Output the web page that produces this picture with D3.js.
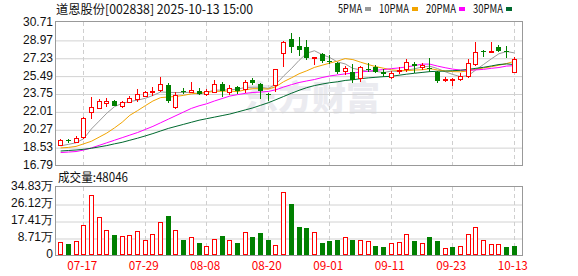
<!DOCTYPE html>
<html>
<head>
<meta charset="utf-8">
<script src="https://cdn.jsdelivr.net/npm/d3@7"></script>
<style>
  body { margin: 0; background: #fff; }
  svg { display: block; }
</style>
</head>
<body>
<div id="chart"></div>
<script>
// Trading days shown on the chart
const dates = [
  "07-14","07-15","07-16","07-17","07-18","07-21","07-22","07-23","07-24","07-25",
  "07-28","07-29","07-30","07-31","08-01","08-04","08-05","08-06","08-07","08-08",
  "08-11","08-12","08-13","08-14","08-15","08-18","08-19","08-20","08-21","08-22",
  "08-25","08-26","08-27","08-28","08-29","09-01","09-02","09-03","09-04","09-05",
  "09-08","09-09","09-10","09-11","09-12","09-15","09-16","09-17","09-18","09-19",
  "09-22","09-23","09-24","09-25","09-26","09-29","09-30","10-09","10-10","10-13"
];

const opens = [
  18.74,19.18,19.06,19.48,21.92,22.30,22.79,23.05,22.57,22.95,
  23.21,23.54,23.92,24.09,24.58,22.41,24.02,23.86,23.99,23.70,
  23.93,24.67,23.86,24.35,24.19,25.06,24.64,23.72,24.58,27.66,
  29.02,28.41,28.24,27.22,27.56,26.90,26.75,25.97,25.87,25.23,
  26.12,26.36,25.81,25.39,26.00,26.14,26.62,26.30,26.25,25.81,
  25.15,25.10,25.19,25.49,26.59,27.92,27.80,28.31,27.85,25.87
];
const highs = [
  19.32,19.35,19.61,21.43,23.44,23.18,23.28,23.10,23.02,23.50,
  24.16,24.02,24.41,25.39,24.74,23.93,24.26,24.90,24.25,24.15,
  25.06,24.84,24.58,24.48,25.06,25.23,24.80,23.83,26.15,28.85,
  29.61,29.28,28.96,27.33,27.66,27.50,26.85,26.43,26.59,26.43,
  26.69,26.52,26.10,25.97,26.30,27.11,26.85,26.75,27.24,25.97,
  25.39,25.23,25.78,27.08,28.73,27.98,28.73,28.47,28.37,27.34
];
const lows = [
  18.64,18.96,18.90,19.29,21.23,22.21,22.47,22.50,22.37,22.80,
  22.95,23.45,23.54,23.86,22.86,22.24,23.67,23.77,23.60,23.54,
  23.77,23.44,23.60,23.70,23.77,24.58,23.20,23.05,23.86,26.36,
  27.72,27.43,27.01,26.52,26.69,26.59,25.62,25.55,24.74,24.84,
  25.87,25.78,25.39,25.20,25.65,25.87,25.78,26.04,25.87,24.80,
  24.90,24.48,25.00,25.23,26.46,27.33,27.76,27.76,27.24,25.71
];
const closes = [
  19.22,19.14,19.39,21.33,22.40,23.02,23.02,22.57,22.95,23.28,
  23.67,23.93,23.99,24.64,23.05,23.60,23.97,24.09,23.70,23.99,
  24.64,23.99,24.25,23.99,24.84,24.74,23.99,23.65,26.10,28.80,
  28.31,27.98,27.17,27.28,26.95,26.85,25.87,26.20,25.06,26.30,
  26.08,25.87,25.62,25.78,26.07,26.78,26.46,26.52,26.18,24.97,
  25.20,25.15,25.45,26.69,27.76,27.87,27.84,27.92,27.80,27.08
];

// Moving averages
const ma5 = [
  18.65,18.80,18.95,19.35,20.30,21.06,21.83,22.47,22.79,22.97,
  23.10,23.28,23.56,23.90,23.86,23.84,23.85,23.87,23.68,23.87,
  24.08,24.08,24.11,24.17,24.34,24.36,24.36,24.24,24.66,25.46,
  26.17,26.97,27.67,27.91,27.54,27.25,26.82,26.63,26.19,26.06,
  25.90,25.90,25.79,25.93,25.89,26.03,26.15,26.33,26.41,26.18,
  25.87,25.60,25.39,25.49,26.05,26.58,27.12,27.62,27.84,27.70
];
const ma10 = [
  18.45,18.50,18.60,18.85,19.10,19.50,19.90,20.40,20.95,21.63,
  22.08,22.56,23.02,23.35,23.41,23.47,23.57,23.72,23.79,23.86,
  23.96,23.97,23.99,23.93,24.11,24.22,24.22,24.18,24.42,24.90,
  25.27,25.67,25.96,26.29,26.50,26.71,26.90,27.15,27.05,26.80,
  26.57,26.36,26.21,26.06,25.98,25.97,26.03,26.06,26.17,26.04,
  25.95,25.88,25.86,25.95,26.12,26.23,26.36,26.50,26.67,26.88
];
const ma20 = [
  18.00,18.05,18.10,18.25,18.45,18.70,18.95,19.20,19.45,19.70,
  19.95,20.25,20.55,20.90,21.25,21.60,21.95,22.30,22.55,22.75,
  23.02,23.26,23.50,23.64,23.76,23.85,23.89,23.95,24.11,24.38,
  24.61,24.82,24.97,25.11,25.30,25.46,25.56,25.66,25.73,25.85,
  25.92,26.01,26.08,26.17,26.24,26.34,26.46,26.61,26.61,26.42,
  26.26,26.12,26.03,26.01,26.05,26.10,26.20,26.28,26.42,26.46
];
const ma30 = [
  18.15,18.20,18.25,18.32,18.42,18.55,18.68,18.85,19.00,19.20,
  19.40,19.62,19.85,20.10,20.35,20.55,20.75,20.95,21.15,21.30,
  21.45,21.60,21.75,21.95,22.15,22.35,22.60,22.85,23.15,23.46,
  23.77,24.06,24.32,24.52,24.67,24.80,24.89,25.02,25.09,25.19,
  25.27,25.33,25.39,25.42,25.53,25.63,25.72,25.80,25.88,25.91,
  25.93,25.97,26.01,26.10,26.20,26.30,26.43,26.57,26.63,26.57
];

// Volume in 万 (10k), and whether each bar is drawn red (1) or green (0)
const volumes = [
  6.5,5.6,7.2,15.4,30.7,19.3,12.8,10.2,9.7,10.1,
  12.3,7.7,10.8,16.9,20.0,12.8,7.7,9.1,6.3,4.6,
  8.2,9.7,7.7,6.3,11.8,9.2,11.3,7.7,5.1,32.4,
  26.1,14.5,13.7,11.6,6.0,7.2,7.7,9.1,7.7,7.7,
  7.2,4.6,3.9,6.0,6.5,10.8,7.2,6.0,9.1,7.2,
  3.4,3.9,4.6,10.8,14.2,7.7,5.6,5.6,3.9,4.8046
];
const volUp = [
  1,0,1,1,1,1,1,0,1,1, 1,1,1,1,0,1,0,1,0,1,
  1,0,1,0,1,0,0,0,1,1, 0,0,0,1,0,0,0,1,0,1,
  1,0,0,1,1,1,0,1,0,0, 1,0,1,1,1,1,1,1,0,0
];

const priceTicks = [30.71, 28.97, 27.23, 25.49, 23.75, 22.01, 20.27, 18.53, 16.79];
const volTicks = [34.83, 26.12, 17.41, 8.71, 0];
const tickDates = ["07-17","07-29","08-08","08-20","09-01","09-11","09-23","10-13"];

const maSeries = [
  { name: "5PMA", values: ma5, color: "#9a9a9a" },
  { name: "10PMA", values: ma10, color: "#f2a400" },
  { name: "20PMA", values: ma20, color: "#ff00ff" },
  { name: "30PMA", values: ma30, color: "#00692f" }
];

// Layout
const width = 578, height = 276;
const left = 56, right = 522;
const kTop = 22, kBottom = 165, vTop = 187, vBottom = 255;
const RED = "#ff0000", GREEN = "#008000";
const cjk = "'Noto Sans CJK SC', 'Noto Sans', sans-serif";
const num = "'Liberation Sans', Arial, sans-serif";

const svg = d3.select("#chart")
  .append("svg")
  .attr("width", width)
  .attr("height", height);

svg.append("rect").attr("width", width).attr("height", height).attr("fill", "#fff");

// Scales
const x = d3.scaleBand().domain(dates).range([56.8, 518.2]).paddingInner(0.35).paddingOuter(0.175);
const col = d => Math.round(x(d) + x.bandwidth() / 2 - 0.5);
const y = d3.scaleLinear().domain([16.79, 30.71]).range([kBottom, kTop]);
const yv = d3.scaleLinear().domain([0, 34.83]).range([vBottom, vTop]);

// Watermark
svg.append("text")
  .attr("x", 244).attr("y", 110)
  .attr("font-family", cjk)
  .attr("font-size", 34)
  .attr("font-weight", 900)
  .attr("fill", "#ebebf0")
  .text("东方财富");

// Horizontal grid lines
svg.append("g")
  .attr("transform", `translate(${left},0)`)
  .call(d3.axisRight(y).tickValues(priceTicks.slice(1, -1)).tickSize(right - left).tickFormat(""))
  .call(g => g.select(".domain").remove())
  .call(g => g.selectAll("line").attr("stroke", "#d2d2d2").attr("transform", "translate(0,0.5)"));

svg.append("g")
  .attr("transform", `translate(${left},0)`)
  .call(d3.axisRight(yv).tickValues(volTicks.slice(1, -1)).tickSize(right - left).tickFormat(""))
  .call(g => g.select(".domain").remove())
  .call(g => g.selectAll("line").attr("stroke", "#d2d2d2").attr("transform", "translate(0,0.5)"));

// Vertical dashed lines at the date labels
[[kTop, kBottom], [vTop, vBottom]].forEach(([t, b]) => {
  svg.append("g")
    .selectAll("line")
    .data(tickDates)
    .join("line")
    .attr("x1", d => col(d) + 0.5)
    .attr("x2", d => col(d) + 0.5)
    .attr("y1", t)
    .attr("y2", b)
    .attr("stroke", "#cfcfcf")
    .attr("stroke-dasharray", "4,3");
});

// Panel borders
svg.append("rect")
  .attr("x", left - 0.5).attr("y", kTop - 0.5)
  .attr("width", right - left + 1).attr("height", kBottom - kTop + 1)
  .attr("fill", "none").attr("stroke", "#999");
svg.append("rect")
  .attr("x", left - 0.5).attr("y", vTop - 0.5)
  .attr("width", right - left + 1).attr("height", vBottom - vTop + 1)
  .attr("fill", "none").attr("stroke", "#999");

// Price axis labels
svg.append("g")
  .attr("transform", `translate(${left},0)`)
  .call(d3.axisLeft(y).tickValues(priceTicks).tickSize(0).tickPadding(3).tickFormat(d3.format(".2f")))
  .call(g => g.select(".domain").remove())
  .call(g => g.selectAll("text")
    .attr("font-family", num).attr("font-size", 12).attr("fill", "#111").attr("dy", "0.28em"));

// Volume axis labels
svg.append("g")
  .attr("transform", `translate(${left},0)`)
  .call(d3.axisLeft(yv).tickValues(volTicks).tickSize(0).tickPadding(3)
    .tickFormat(d => d === 0 ? "0" : d3.format(".2f")(d) + "万"))
  .call(g => g.select(".domain").remove())
  .call(g => g.selectAll("text")
    .attr("font-family", num).attr("font-size", 12).attr("fill", "#111").attr("dy", "0.22em"));

// Date axis
svg.append("g")
  .attr("transform", `translate(0,${vBottom})`)
  .call(d3.axisBottom(x).tickValues(tickDates).tickSize(0).tickPadding(6))
  .call(g => g.select(".domain").remove())
  .call(g => g.selectAll("text")
    .attr("font-family", cjk).attr("font-size", 12).attr("fill", RED)
    .attr("dx", -1.5).attr("textLength", 30).attr("lengthAdjust", "spacingAndGlyphs"));

// Moving average lines
const line = d3.line().x((d, i) => x(dates[i]) + x.bandwidth() / 2).y(d => y(d));
svg.append("g")
  .selectAll("path")
  .data(maSeries)
  .join("path")
  .attr("d", d => line(d.values))
  .attr("fill", "none")
  .attr("stroke", d => d.color)
  .attr("stroke-width", 1);

// Candles
const bars = dates.map((d, i) => ({ date: d, o: opens[i], h: highs[i], l: lows[i], c: closes[i] }));
const candle = svg.append("g")
  .selectAll("g")
  .data(bars)
  .join("g");

candle.append("line")
  .attr("x1", d => col(d.date) + 0.5)
  .attr("x2", d => col(d.date) + 0.5)
  .attr("y1", d => Math.round(y(d.h)))
  .attr("y2", d => Math.round(y(d.l)))
  .attr("stroke", d => d.c >= d.o ? RED : GREEN);

candle.append("rect")
  .attr("x", d => d.c >= d.o ? col(d.date) - 1.5 : col(d.date) - 2)
  .attr("y", d => d.c >= d.o ? Math.round(y(Math.max(d.o, d.c))) + 0.5 : Math.round(y(Math.max(d.o, d.c))))
  .attr("width", d => d.c >= d.o ? 4 : 5)
  .attr("height", d => Math.max(1, Math.round(y(Math.min(d.o, d.c))) - Math.round(y(Math.max(d.o, d.c)))))
  .attr("fill", d => d.c >= d.o ? "#fff" : GREEN)
  .attr("stroke", d => d.c >= d.o ? RED : "none");

// Volume bars
svg.append("g")
  .selectAll("rect")
  .data(dates.map((d, i) => ({ date: d, v: volumes[i], up: volUp[i] })))
  .join("rect")
  .attr("x", d => d.up ? col(d.date) - 1.5 : col(d.date) - 2)
  .attr("y", d => d.up ? Math.round(yv(d.v)) + 0.5 : Math.round(yv(d.v)))
  .attr("width", d => d.up ? 4 : 5)
  .attr("height", d => d.up ? vBottom - Math.round(yv(d.v)) - 1 : vBottom - Math.round(yv(d.v)))
  .attr("fill", d => d.up ? "#fff" : GREEN)
  .attr("stroke", d => d.up ? RED : "none");

// Title
svg.append("text")
  .attr("x", 56).attr("y", 14)
  .attr("font-family", cjk).attr("font-size", 12.5).attr("fill", "#111")
  .attr("textLength", 197).attr("lengthAdjust", "spacingAndGlyphs")
  .text("道恩股份[002838] 2025-10-13 15:00");

// Volume caption
svg.append("text")
  .attr("x", 58).attr("y", 182)
  .attr("font-family", cjk).attr("font-size", 12.5).attr("fill", "#111")
  .attr("textLength", 70).attr("lengthAdjust", "spacingAndGlyphs")
  .text("成交量:" + Math.round(volumes[volumes.length - 1] * 10000));

// Legend
let lx = 338;
maSeries.forEach(s => {
  const w = s.name.length * 6;
  svg.append("text")
    .attr("x", lx).attr("y", 13)
    .attr("font-family", cjk).attr("font-size", 12).attr("fill", "#111")
    .attr("textLength", w).attr("lengthAdjust", "spacingAndGlyphs")
    .text(s.name);
  svg.append("rect")
    .attr("x", lx + w + 3).attr("y", 7)
    .attr("width", 6).attr("height", 4)
    .attr("fill", s.color);
  lx += w + 3 + 6 + 8;
});
</script>
</body>
</html>
